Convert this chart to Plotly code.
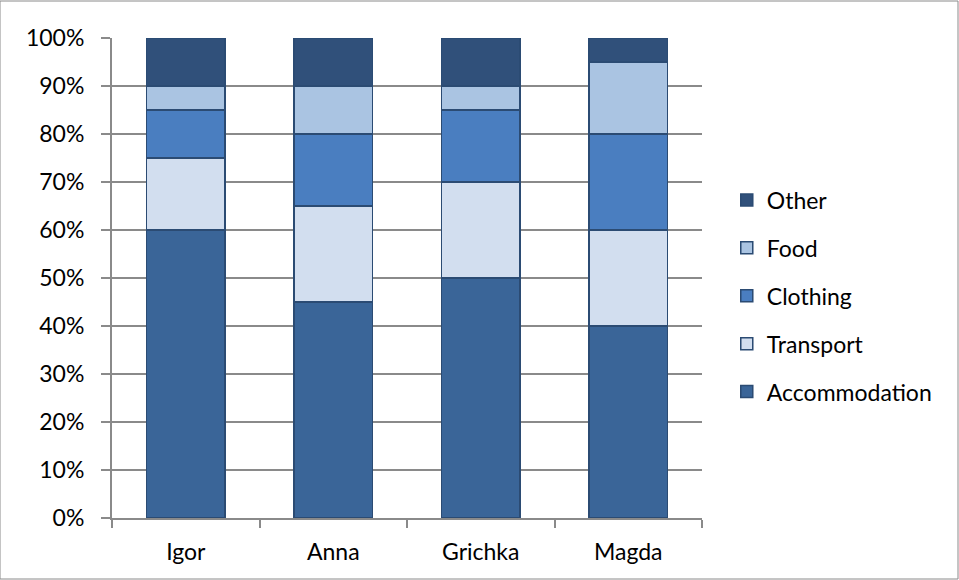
import plotly.graph_objects as go

people = ["Igor", "Anna", "Grichka", "Magda"]
accommodation = [60, 45, 50, 40]
transport = [15, 20, 20, 20]
clothing = [10, 15, 15, 20]
food = [5, 10, 5, 15]
other = [10, 10, 10, 5]

series = [
    ("Accommodation", accommodation, "#3A6598"),
    ("Transport", transport, "#D2DEEF"),
    ("Clothing", clothing, "#4A7EC0"),
    ("Food", food, "#AAC4E2"),
    ("Other", other, "#30507A"),
]

fig = go.Figure()
for i, (name, vals, color) in enumerate(series):
    fig.add_trace(go.Bar(
        x=people, y=vals, name=name, legendgroup=name,
        legendrank=1000 - i,
        marker=dict(color=color, line=dict(color="#2B4B73", width=1.5)),
    ))

grid = "#8A8A8A"
fig.update_layout(
    width=959, height=580,
    barmode="stack", bargap=0.47,
    paper_bgcolor="white", plot_bgcolor="white",
    margin=dict(l=112, r=257, t=38, b=62),
    font=dict(family="Lato, Calibri, sans-serif", size=23, color="black"),
    legend=dict(
        traceorder="grouped", tracegroupgap=15,
        x=1.042, xanchor="left", y=0.4625, yanchor="middle",
        font=dict(size=23), itemwidth=30,
    ),
    xaxis=dict(
        showline=True, linecolor=grid, linewidth=2,
        ticks="outside", tickson="boundaries", ticklen=8, tickcolor=grid, tickwidth=1.5,
        ticklabelstandoff=12, showgrid=False,
    ),
    yaxis=dict(
        range=[0, 100], dtick=10, ticksuffix="%",
        showline=True, linecolor=grid, linewidth=2,
        ticks="outside", ticklen=9, tickcolor=grid, tickwidth=1.5,
        ticklabelstandoff=12,
        showgrid=True, gridcolor=grid, gridwidth=1.5,
        zeroline=False,
    ),
    shapes=[dict(type="rect", xref="paper", yref="paper",
                 x0=-112/590, x1=1 + 256/590, y0=-61/480, y1=1 + 37/480,
                 line=dict(color="#8A8A8A", width=1))],
)

fig.write_html("out.html")
